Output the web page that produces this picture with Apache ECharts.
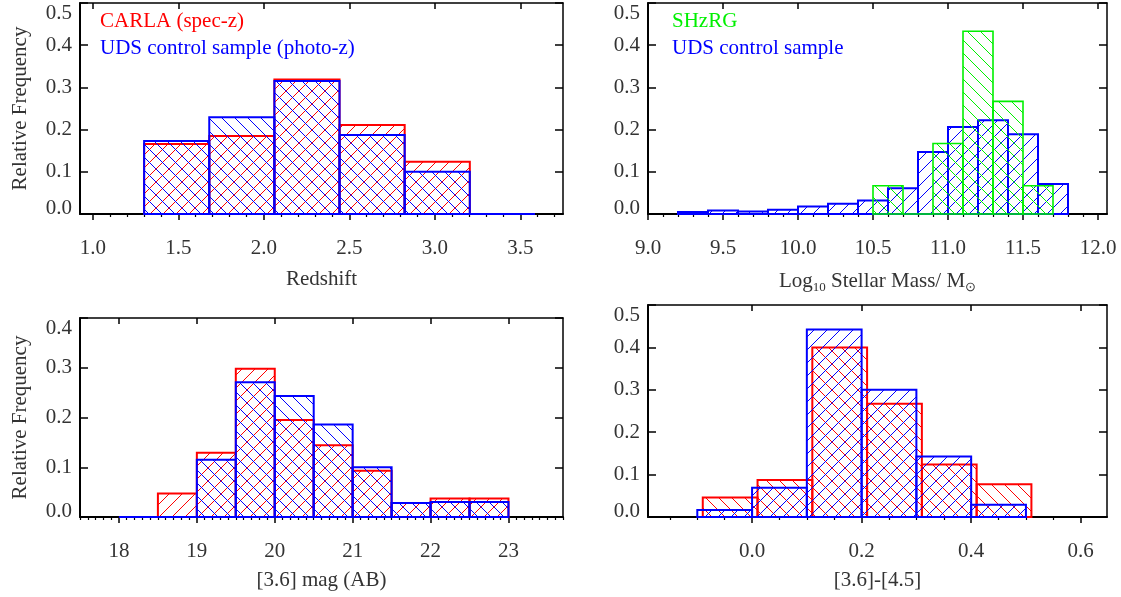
<!DOCTYPE html>
<html><head><meta charset="utf-8">
<script src="https://cdn.jsdelivr.net/npm/echarts@6/dist/echarts.min.js"></script>
<style>html,body{margin:0;padding:0;background:#fff}#c{width:1121px;height:597px}</style>
</head><body><div id="c"></div>
<script>
// ---- Panel 1 : redshift ----
const zEdges = [1.300, 1.681, 2.062, 2.443, 2.824, 3.205, 3.586];
const carlaZ = [0.166, 0.185, 0.319, 0.211, 0.124, 0.000];
const udsZ   = [0.173, 0.229, 0.315, 0.187, 0.100, 0.000];
const zTicks = [1.0, 1.5, 2.0, 2.5, 3.0, 3.5];
// ---- Panel 2 : stellar mass ----
const udsMassEdges = [9.2, 9.4, 9.6, 9.8, 10.0, 10.2, 10.4, 10.6, 10.8, 11.0, 11.2, 11.4, 11.6, 11.8];
const udsMass = [0.005, 0.008, 0.006, 0.010, 0.018, 0.024, 0.032, 0.061, 0.147, 0.206, 0.222, 0.189, 0.071];
const shzrgMassEdges = [10.5, 10.7, 10.9, 11.1, 11.3, 11.5, 11.7];
const shzrgMass = [0.067, 0.000, 0.167, 0.433, 0.267, 0.067];
const massTicks = [9.0, 9.5, 10.0, 10.5, 11.0, 11.5, 12.0];
// ---- Panel 3 : [3.6] magnitude ----
const magEdges = [18.0, 18.5, 19.0, 19.5, 20.0, 20.5, 21.0, 21.5, 22.0, 22.5, 23.0];
const carlaMag = [0.000, 0.047, 0.129, 0.298, 0.195, 0.144, 0.093, 0.028, 0.037, 0.037];
const udsMag   = [0.000, 0.000, 0.115, 0.271, 0.243, 0.186, 0.100, 0.028, 0.030, 0.030];
const magTicks = [18, 19, 20, 21, 22, 23];
// ---- Panel 4 : [3.6]-[4.5] colour ----
const carlaColorEdges = [-0.09, 0.01, 0.11, 0.21, 0.31, 0.41, 0.51];
const carlaColor = [0.046, 0.087, 0.400, 0.267, 0.124, 0.077];
const udsColorEdges = [-0.10, 0.00, 0.10, 0.20, 0.30, 0.40, 0.50];
const udsColor = [0.0165, 0.069, 0.442, 0.300, 0.1425, 0.029];
const colorTicks = [0.0, 0.2, 0.4, 0.6];

const RED = '#ff0000', BLUE = '#0000ff', GREEN = '#00f000';
const FONT = '"Liberation Serif", "Times New Roman", serif';
const FS = 21;
const TXT = '#333333';

function hatchCanvas(color, dir, p) {
  const c = document.createElement('canvas');
  c.width = p; c.height = p;
  const ctx = c.getContext('2d');
  ctx.strokeStyle = color; ctx.lineWidth = 1;
  ctx.beginPath();
  if (dir === '/') {
    ctx.moveTo(-1, 1); ctx.lineTo(1, -1);
    ctx.moveTo(0, p); ctx.lineTo(p, 0);
    ctx.moveTo(p - 1, p + 1); ctx.lineTo(p + 1, p - 1);
  } else {
    ctx.moveTo(0, 0); ctx.lineTo(p, p);
    ctx.moveTo(-1, p - 1); ctx.lineTo(1, p + 1);
    ctx.moveTo(p - 1, -1); ctx.lineTo(p + 1, 1);
  }
  ctx.stroke();
  return c;
}

function histSeries(edges, values, color, dir, pi, z, lw) {
  const data = values.map((v, i) => [edges[i], edges[i + 1], v]);
  const pat = { image: hatchCanvas(color, dir, 13), repeat: 'repeat' };
  return {
    type: 'custom', xAxisIndex: pi * 3, yAxisIndex: pi * 2, z: z, silent: true,
    animation: false, encode: { x: [0, 1], y: 2 }, data: data,
    renderItem: function (params, api) {
      const a = api.coord([api.value(0), 0]);
      const b = api.coord([api.value(1), api.value(2)]);
      return { type: 'group', children: [
        { type: 'rect', shape: { x: a[0], y: b[1], width: b[0] - a[0], height: a[1] - b[1] },
          style: { fill: pat, stroke: null } },
        { type: 'polygon', shape: { points: [[a[0], a[1]], [a[0], b[1]], [b[0], b[1]], [b[0], a[1]]] },
          style: { fill: null, stroke: color, lineWidth: lw } }
      ]};
    }
  };
}

function minorValues(min, max, step, majors) {
  const out = [];
  const start = Math.ceil(min / step - 1e-9);
  for (let k = start; k * step <= max + 1e-9; k++) {
    const v = +(k * step).toFixed(6);
    if (!majors.some(m => Math.abs(m - v) < 1e-6)) out.push(v);
  }
  return out;
}

const panels = [
  { grid: { left: 80, top: 3, width: 483, height: 211 }, xmin: 0.925, xmax: 3.75, ymax: 0.5,
    majors: zTicks, step: 0.1, fmt: v => v.toFixed(1), name: 'Redshift', yname: true, nameGap: 55, margin: 24 },
  { grid: { left: 648, top: 3, width: 459, height: 211 }, xmin: 9.0, xmax: 12.06, ymax: 0.5,
    majors: massTicks, step: 0.1, fmt: v => v.toFixed(1),
    name: '{a|Log}{s|10}{a| Stellar Mass/ M}{s|\u2299}', yname: false, nameGap: 55, margin: 24 },
  { grid: { left: 80, top: 318, width: 483, height: 199 }, xmin: 17.5, xmax: 23.7, ymax: 0.4,
    majors: magTicks, step: 0.1, fmt: v => String(Math.round(v)), name: '[3.6] mag (AB)', yname: true, nameGap: 53, margin: 24 },
  { grid: { left: 648, top: 305, width: 459, height: 212 }, xmin: -0.19, xmax: 0.648, ymax: 0.5,
    majors: colorTicks, step: 0.05, fmt: v => v.toFixed(1), name: '[3.6]-[4.5]', yname: false, nameGap: 53, margin: 24 }
];

const grids = [], xAxes = [], yAxes = [];
panels.forEach((p, i) => {
  grids.push(Object.assign({ containLabel: false }, p.grid));
  const base = { type: 'value', gridIndex: i, min: p.xmin, max: p.xmax, splitLine: { show: false } };
  xAxes.push(Object.assign({}, base, {
    position: 'bottom',
    axisLine: { show: true, onZero: false, lineStyle: { color: '#000', width: 2 } },
    axisTick: { show: true, inside: false, length: 6, lineStyle: { color: '#000', width: 1.5 }, customValues: p.majors },
    axisLabel: { show: true, margin: p.margin, color: TXT, fontSize: FS, fontFamily: FONT, customValues: p.majors, formatter: p.fmt },
    name: p.name, nameLocation: 'middle', nameGap: p.nameGap,
    nameTextStyle: { color: TXT, fontSize: FS, fontFamily: FONT,
      rich: { a: { fontSize: FS, fontFamily: FONT, color: TXT }, s: { fontSize: 13, fontFamily: FONT, color: TXT, padding: [12, 0, 0, 0] } } }
  }));
  xAxes.push(Object.assign({}, base, {
    position: 'bottom',
    axisLine: { show: false, onZero: false },
    axisTick: { show: true, inside: false, length: 3, lineStyle: { color: '#000', width: 1.2 }, customValues: minorValues(p.xmin, p.xmax, p.step, p.majors) },
    axisLabel: { show: false }
  }));
  xAxes.push(Object.assign({}, base, {
    position: 'top',
    axisLine: { show: true, onZero: false, lineStyle: { color: '#000', width: 1.5 } },
    axisTick: { show: true, inside: true, length: 6, lineStyle: { color: '#000', width: 1.5 }, customValues: p.majors },
    axisLabel: { show: false }
  }));
  const ybase = { type: 'value', gridIndex: i, min: 0, max: p.ymax, interval: 0.1, splitLine: { show: false } };
  yAxes.push(Object.assign({}, ybase, {
    position: 'left',
    axisLine: { show: true, onZero: false, lineStyle: { color: '#000', width: 2 } },
    axisTick: { show: true, inside: true, length: 8, lineStyle: { color: '#000', width: 1.5 } },
    axisLabel: { show: true, margin: 8, color: TXT, fontSize: FS, fontFamily: FONT,
      formatter: v => (Math.abs(v) < 1e-9 ? '{lo|0.0}' : v.toFixed(1)),
      rich: { lo: { fontSize: FS, fontFamily: FONT, color: TXT, padding: [0, 0, 12, 0] } },
      verticalAlignMaxLabel: 'top' },
    name: p.yname ? 'Relative Frequency' : '', nameLocation: 'middle', nameGap: 49, nameRotate: 90,
    nameTextStyle: { color: TXT, fontSize: FS, fontFamily: FONT }
  }));
  yAxes.push(Object.assign({}, ybase, {
    position: 'right',
    axisLine: { show: true, onZero: false, lineStyle: { color: '#000', width: 1.5 } },
    axisTick: { show: true, inside: true, length: 8, lineStyle: { color: '#000', width: 1.5 } },
    axisLabel: { show: false }
  }));
});

const series = [
  histSeries(zEdges, carlaZ, RED, '/', 0, 2, 2),
  histSeries(zEdges, udsZ, BLUE, '\\', 0, 3, 2),
  histSeries(udsMassEdges, udsMass, BLUE, '/', 1, 2, 2),
  histSeries(shzrgMassEdges, shzrgMass, GREEN, '\\', 1, 3, 1.6),
  histSeries(magEdges, carlaMag, RED, '/', 2, 2, 2),
  histSeries(magEdges, udsMag, BLUE, '\\', 2, 3, 2),
  histSeries(carlaColorEdges, carlaColor, RED, '\\', 3, 2, 2),
  histSeries(udsColorEdges, udsColor, BLUE, '/', 3, 3, 2)
];

const legendFont = FS + 'px ' + FONT;
const graphic = [
  { type: 'text', left: 100, top: 11, silent: true, style: { text: 'CARLA (spec-z)', fill: RED, font: legendFont } },
  { type: 'text', left: 100, top: 38, silent: true, style: { text: 'UDS control sample (photo-z)', fill: BLUE, font: legendFont } },
  { type: 'text', left: 672, top: 11, silent: true, style: { text: 'SHzRG', fill: GREEN, font: legendFont } },
  { type: 'text', left: 672, top: 38, silent: true, style: { text: 'UDS control sample', fill: BLUE, font: legendFont } }
];

const chart = echarts.init(document.getElementById('c'), null, { renderer: 'canvas' });
chart.setOption({
  animation: false, backgroundColor: '#fff',
  grid: grids, xAxis: xAxes, yAxis: yAxes, series: series, graphic: graphic
});
</script></body></html>
